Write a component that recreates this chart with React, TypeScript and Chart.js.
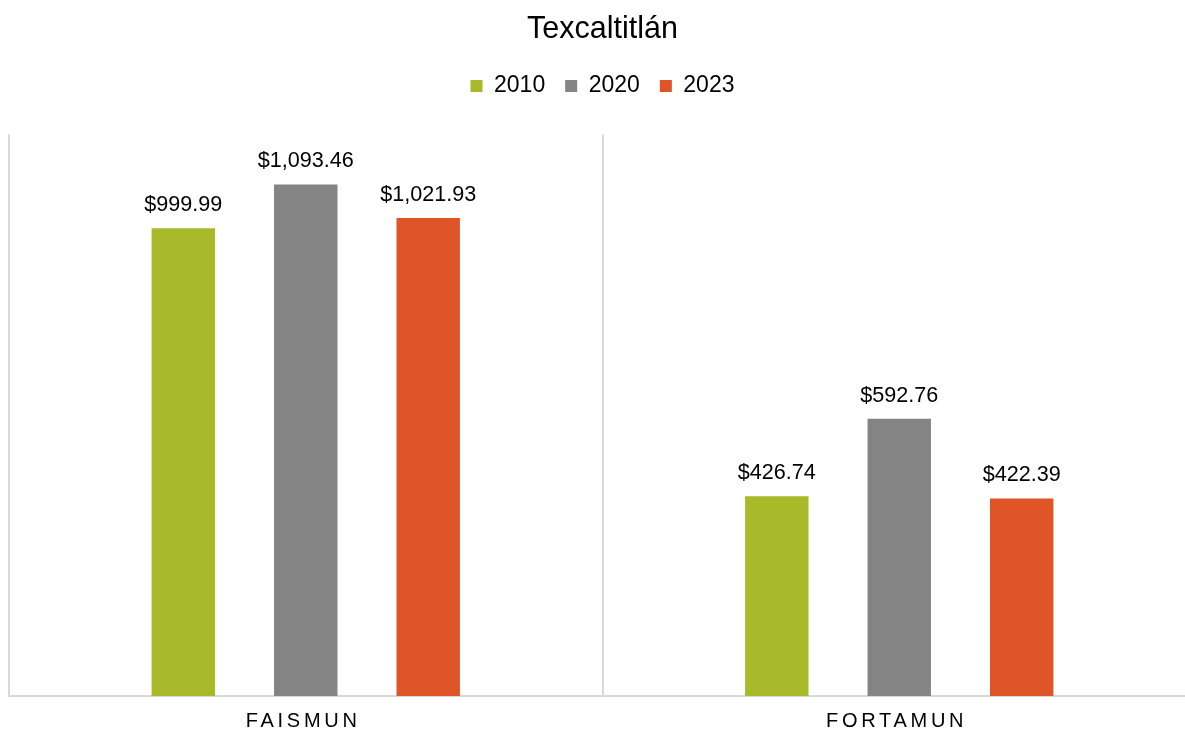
import { useEffect, useRef } from 'react';
import { Chart, registerables } from 'chart.js';

Chart.register(...registerables);

const chartTitle = 'Texcaltitlán';
const categories = ['FAISMUN', 'FORTAMUN'];
const seriesLabels = ['2010', '2020', '2023'];
const values2010 = [999.99, 426.74];
const values2020 = [1093.46, 592.76];
const values2023 = [1021.93, 422.39];
const seriesColors = ['#A8B92A', '#848484', '#E05527'];
const yMin = 0;
const yMax = 1200;

const FONT = '"Liberation Sans", Arial, Helvetica, sans-serif';

const fmt = (v: number) =>
  '$' + v.toLocaleString('en-US', { minimumFractionDigits: 2, maximumFractionDigits: 2 });

const customPlugin = {
  id: 'customLabels',
  beforeLayout(chart: any) {
    const lg = chart.legend;
    if (lg && !lg.__patched) {
      const orig = lg.fit.bind(lg);
      lg.fit = function () {
        orig();
        this.height += 27;
      };
      lg.__patched = true;
    }
  },
  afterDatasetsDraw(chart: any) {
    const ctx = chart.ctx as CanvasRenderingContext2D;
    ctx.save();
    ctx.font = `21.6px ${FONT}`;
    ctx.fillStyle = '#000000';
    ctx.textAlign = 'center';
    ctx.textBaseline = 'middle';
    chart.data.datasets.forEach((ds: any, di: number) => {
      const meta = chart.getDatasetMeta(di);
      meta.data.forEach((bar: any, i: number) => {
        ctx.fillText(fmt(ds.data[i] as number), bar.x, bar.y - 23);
      });
    });
    const xs = chart.scales.x;
    const spacing = 3.7;
    ctx.font = `20px ${FONT}`;
    (ctx as any).letterSpacing = spacing + 'px';
    categories.forEach((c, i) => {
      ctx.fillText(c, xs.getPixelForValue(i) - 2.6, chart.chartArea.bottom + 25);
    });
    ctx.restore();
  },
};

export default function App() {
  const canvasRef = useRef<HTMLCanvasElement | null>(null);

  useEffect(() => {
    if (!canvasRef.current) return;
    const seriesValues = [values2010, values2020, values2023];
    const chart = new Chart(canvasRef.current, {
      type: 'bar',
      data: {
        labels: categories,
        datasets: seriesLabels.map((label, i) => ({
          label,
          data: seriesValues[i],
          backgroundColor: seriesColors[i],
          borderWidth: 0,
          categoryPercentage: 0.619,
          barPercentage: 0.518,
        })),
      },
      options: {
        animation: false,
        responsive: true,
        maintainAspectRatio: false,
        layout: { padding: { left: 1, right: 0, top: 0, bottom: 33 } },
        plugins: {
          title: {
            display: true,
            text: chartTitle,
            color: '#000000',
            font: { size: 30.5, family: FONT, weight: 'normal' },
            padding: { top: 3, bottom: 7 },
          },
          legend: {
            display: true,
            position: 'top',
            labels: {
              color: '#000000',
              font: { size: 23, family: FONT },
              boxWidth: 12,
              boxHeight: 12,
              padding: 20,
            },
          },
          tooltip: { enabled: false },
        },
        scales: {
          x: {
            grid: { display: true, offset: true, color: '#d9d9d9', lineWidth: 2, drawTicks: false },
            border: { display: true, color: '#d9d9d9', width: 2 },
            ticks: { display: false },
          },
          y: {
            display: false,
            min: yMin,
            max: yMax,
            grid: { display: false },
          },
        },
      },
      plugins: [customPlugin],
    } as any);
    return () => chart.destroy();
  }, []);

  return (
    <div style={{ position: 'fixed', inset: 0, overflow: 'hidden', background: '#ffffff' }}>
      <div style={{ position: 'absolute', left: 8, top: 8, width: 1188, height: 721 }}>
        <canvas ref={canvasRef} style={{ display: 'block' }} />
      </div>
    </div>
  );
}
